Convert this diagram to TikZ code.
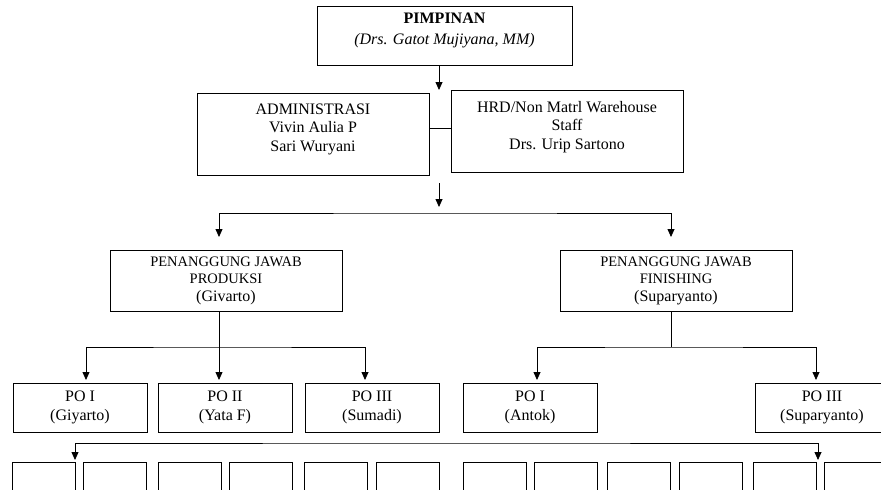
\documentclass[tikz,border=0pt]{standalone}
\usepackage{fontspec}
\setmainfont{Liberation Serif}
\usetikzlibrary{arrows.meta}

\begin{document}
\begin{tikzpicture}[x=1pt, y=-1pt, line width=0.8pt, >={Triangle[length=8pt,width=7pt]},
  main/.style = {draw, rectangle, align=center, inner sep=2pt, font=\fontsize{16}{18.5}\selectfont},
  po/.style = {main, minimum width=134pt, minimum height=49pt, font=\fontsize{16}{19}\selectfont},
  sub/.style = {draw, rectangle, minimum width=63pt, minimum height=60pt}]
\useasboundingbox (0,0) rectangle (881,490);
\clip (0,0) rectangle (881,490);

% top
\node[main, minimum width=255pt, minimum height=59pt, text depth=14pt, font=\fontsize{16}{21}\selectfont] (pimpinan) at (444.5,35.5) {\textbf{PIMPINAN}\\ \textit{(Drs. Gatot Mujiyana, MM)}};
\node[main, minimum width=232pt, minimum height=82pt, text depth=13pt] (admin) at (313,134) {ADMINISTRASI\\ Vivin Aulia P\\ Sari Wuryani};
\node[main, minimum width=232pt, minimum height=82pt, text depth=12pt] (hrd) at (567,131) {HRD/Non Matrl Warehouse\\ Staff\\ Drs. Urip Sartono};

% penanggung jawab
\node[main, minimum width=232pt, minimum height=61pt, font=\fontsize{14.5}{17.5}\selectfont] (produksi) at (226,280.5) {PENANGGUNG JAWAB\\ PRODUKSI\\ \fontsize{16}{17.5}\selectfont (Givarto)};
\node[main, minimum width=232pt, minimum height=61pt, font=\fontsize{14.5}{17.5}\selectfont] (finishing) at (676,280.5) {PENANGGUNG JAWAB\\ FINISHING\\ \fontsize{16}{17.5}\selectfont (Suparyanto)};

% PO
\node[po] (po1) at (80,407.5) {PO I\\ (Giyarto)};
\node[po] (po2) at (225,407.5) {PO II\\ (Yata F)};
\node[po] (po3) at (372,407.5) {PO III\\ (Sumadi)};
\node[po] (po4) at (530,407.5) {PO I\\ (Antok)};
\node[po] (po5) at (822,407.5) {PO III\\ (Suparyanto)};

% bottom row
\foreach \x [count=\i] in {43.5,115,190,261,336,407.5,494.5,565.5,638.5,711,784.5,855.5}
  \node[sub] (s\i) at (\x,492) {};

% connectors
\coordinate (a1) at (439,90);
\draw[->] (pimpinan.south -| a1) -- (a1);
\coordinate (j1) at (440,128);
\draw (admin.east |- j1) -- (hrd.west |- j1);
\coordinate (a2) at (439,183);
\coordinate (a3) at (439,207);
\draw[->] (a2) -- (a3);

\coordinate (bus1) at (445,213);
\coordinate (p1) at (219,237);
\coordinate (f1) at (671,237);
\draw[<->] (p1) |- (bus1) -| (f1);

\coordinate (bus2) at (219,347);
\coordinate (q1) at (86,380);
\coordinate (q2) at (219,380);
\coordinate (q3) at (365,380);
\draw (produksi.south -| bus2) -- (bus2);
\draw[<->] (q1) |- (bus2) -| (q3);
\draw[->] (bus2) -- (q2);

\coordinate (bus3) at (671,347);
\coordinate (r1) at (537,380);
\coordinate (r2) at (816,380);
\draw (finishing.south -| bus3) -- (bus3);
\draw[<->] (r1) |- (bus3) -| (r2);

\coordinate (bus4) at (446,443);
\coordinate (t1) at (75,460);
\coordinate (t2) at (818,460);
\draw[<->] (t1) |- (bus4) -| (t2);
\end{tikzpicture}
\end{document}
